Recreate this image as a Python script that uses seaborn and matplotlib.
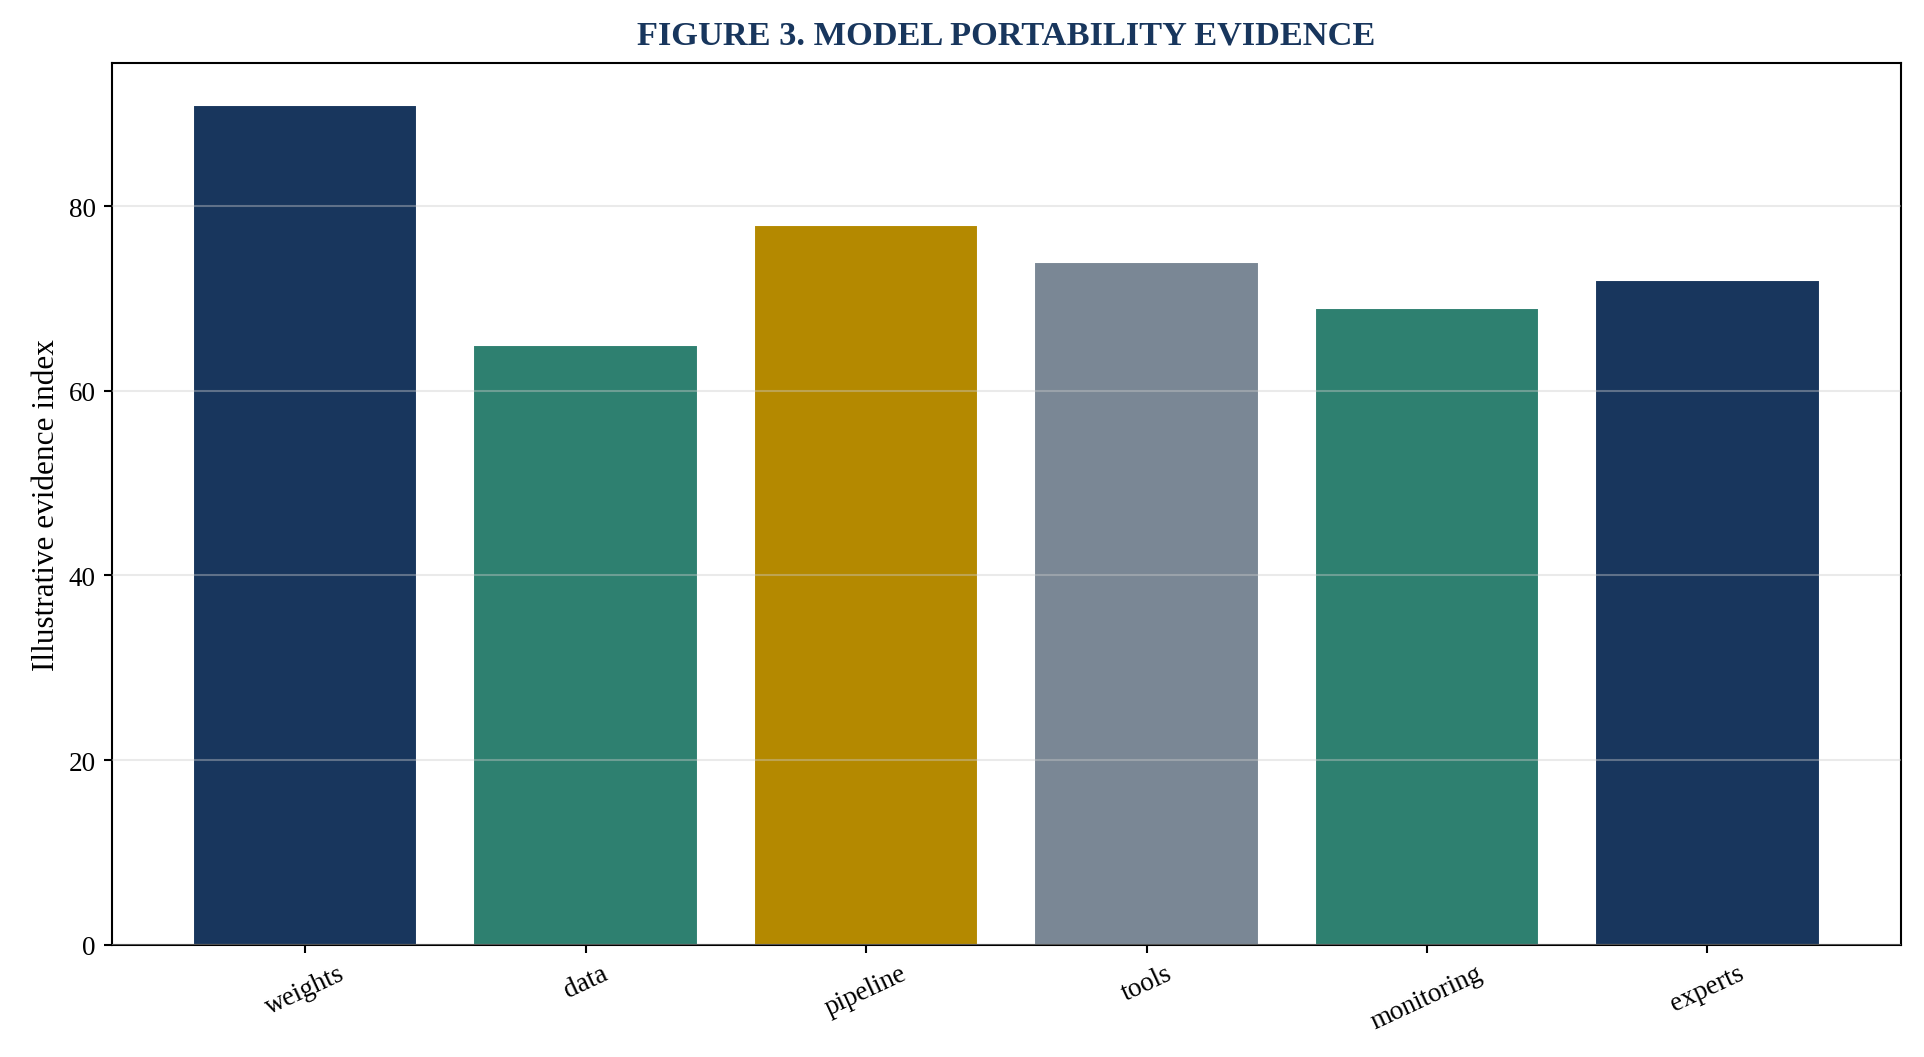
import matplotlib
matplotlib.use("Agg")
import matplotlib.pyplot as plt
import seaborn as sns
import pandas as pd

# chart data
categories = ["weights", "data", "pipeline", "tools", "monitoring", "experts"]
values = [91, 65, 78, 74, 69, 72]
bar_colors = ["#18365D", "#2E8070", "#B48900", "#7A8795", "#2E8070", "#18365D"]

title = "FIGURE 3. MODEL PORTABILITY EVIDENCE"
y_label = "Illustrative evidence index"

sns.set_theme(style="white")
plt.rcParams["font.family"] = ["Liberation Serif", "DejaVu Serif"]

df = pd.DataFrame({"category": categories, "value": values})

fig, ax = plt.subplots(figsize=(12.827, 7.053), dpi=150)
fig.subplots_adjust(left=0.058, right=0.988, top=0.940, bottom=0.106)

sns.barplot(data=df, x="category", y="value", hue="category",
            palette=bar_colors, width=0.8, saturation=1, legend=False, ax=ax)

ax.set_xlim(-0.69, len(categories) - 1 + 0.69)
ax.set_ylim(0, max(values) * 1.05)
ax.set_yticks([0, 20, 40, 60, 80])

ax.grid(axis="y", color="#cccccc", alpha=0.4, linewidth=1.0)
ax.set_axisbelow(False)

for side in ["top", "right", "bottom", "left"]:
    ax.spines[side].set_visible(True)
    ax.spines[side].set_color("black")
    ax.spines[side].set_linewidth(1.0)

ax.tick_params(axis="both", direction="out", length=4, width=1, color="black",
               labelsize=13, bottom=True, left=True, labelcolor="black")
plt.setp(ax.get_xticklabels(), rotation=25)

ax.set_xlabel("")
ax.set_ylabel(y_label, fontsize=15, color="black")
ax.set_title(title, fontsize=16.5, fontweight="bold", color="#18365D", pad=9)

fig.savefig("out.png", dpi=150)
